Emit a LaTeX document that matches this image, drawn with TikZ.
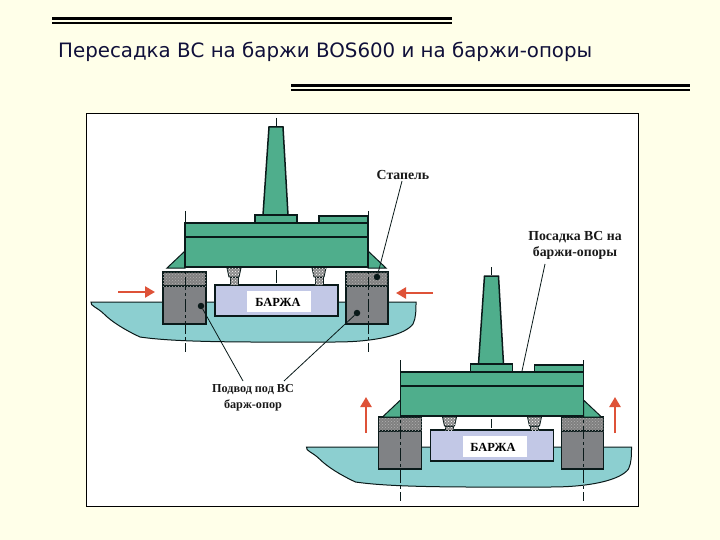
\documentclass[tikz,border=0pt]{standalone}
\usepackage{fontspec}
\setmainfont{Liberation Serif}
\newfontfamily\titlefont{DejaVu Sans}
\usetikzlibrary{patterns,arrows.meta}
\definecolor{pagebg}{HTML}{FFFFE9}
\definecolor{titleink}{HTML}{10103A}
\definecolor{shipgreen}{HTML}{4FAE8C}
\definecolor{hullblue}{HTML}{8CCFD0}
\definecolor{pontoon}{HTML}{808285}
\definecolor{bargeblue}{HTML}{C2C8E6}
\definecolor{redarrow}{HTML}{DE5238}
\definecolor{ink}{HTML}{0A1A1A}
\tikzset{
  x=1pt,y=-1pt,
  hullstyle/.style={fill=hullblue,draw=ink,line width=1pt},
  shipstyle/.style={fill=shipgreen,draw=ink,line width=1.5pt},
  pontoonstyle/.style={fill=pontoon,draw=ink,line width=1.2pt},
  padstyle/.style={draw=ink,line width=1.2pt,fill=black!50,postaction={pattern=crosshatch dots,pattern color=white!70!black}},
  jackpad/.style={draw=ink,line width=0.9pt,fill=black!45,postaction={pattern=crosshatch dots,pattern color=white}},
  bargestyle/.style={fill=bargeblue,draw=ink,line width=1.7pt},
  axisstyle/.style={draw=ink,line width=0.9pt,dash pattern=on 13pt off 3pt on 3pt off 3pt},
  bluelabel/.style={fill=white,inner sep=0pt,font=\bfseries\fontsize{12.4}{12.4}\selectfont,text=black},
  calltext/.style={font=\bfseries\fontsize{13.8}{16}\selectfont,align=center,text=black!90,inner sep=1pt},
  leader/.style={draw=ink,line width=0.8pt},
  dotstyle/.style={circle,fill=ink,minimum size=6.5pt,inner sep=0pt},
  redflow/.style={draw=redarrow,line width=2.4pt,-{Triangle[length=10pt,width=11pt]}},
  rulethick/.style={draw=black,line width=3pt},
  rulethin/.style={draw=black,line width=1.8pt},
}
% #1,#2: shift of the rig; #3: how much lower the ship sits on it
\newcommand{\Rig}[3]{%
\begin{scope}[shift={(#1,#2)}]
  \path[hullstyle] (91,302) .. controls (90,306) and (97,307) .. (104,314)
     .. controls (112,322) and (125,330) .. (140,337)
     .. controls (180,343) and (260,342) .. (335,342)
     .. controls (375,342) and (405,335) .. (413,324)
     .. controls (416,318) and (416,310) .. (416,302) -- cycle;
  \path[pontoonstyle] (163,286) rectangle (206,324);
  \path[pontoonstyle] (346,286) rectangle (388,324);
  \path[padstyle] (163,272) rectangle (206,286);
  \path[padstyle] (346,272) rectangle (388,286);
  \path[bargestyle] (215,285) rectangle (338,316);
  \path[fill=white] (247,291) rectangle (311,312);
  \foreach \jx in {234,319}{
    \path[jackpad] (\jx-7,268+#3) -- (\jx+7,268+#3) -- (\jx+5,277+#3) -- (\jx-5,277+#3) -- cycle;
    \path[jackpad] (\jx-4,277+#3) rectangle (\jx+4,285);
  }
  \path[draw=ink,line width=0.9pt] (276,270+#3) -- (276,283);
  \begin{scope}[yshift=-#3pt]
    \path[shipstyle,line width=1pt] (185,251) -- (167,268) -- (185,268) -- cycle;
    \path[shipstyle,line width=1pt] (368,251) -- (386,268) -- (368,268) -- cycle;
    \path[shipstyle] (269,127) -- (283,127) -- (288,215) -- (263,215) -- cycle;
    \path[shipstyle] (255,215) rectangle (297,223);
    \path[shipstyle] (319,216) rectangle (368,223);
    \path[shipstyle] (185,223) rectangle (368,267);
    \path[draw=ink,line width=1.5pt] (185,237) -- (368,237);
    \path[axisstyle] (185,211) -- (185,352);
    \path[axisstyle] (368,211) -- (368,352);
    \path[draw=ink,line width=0.9pt] (276,118) -- (276,126);
  \end{scope}
\end{scope}}
\begin{document}
\begin{tikzpicture}
\useasboundingbox (0,0) rectangle (720,540);
\path[fill=pagebg] (0,0) rectangle (720,540);
% title rules
\path[rulethick] (52,18.5) -- (452,18.5);
\path[rulethin] (52,23) -- (452,23);
\path[rulethick] (291,86) -- (690,86);
\path[rulethin] (291,90.3) -- (690,90.3);
\node[anchor=base west,inner sep=0pt,text=titleink] (title) at (58,58)
  {\titlefont\fontsize{19.8}{22}\selectfont Пересадка ВС на баржи BOS600 и на баржи-опоры};
% frame
\path[draw=black,fill=white,line width=0.9pt] (86,113) rectangle (638,506);
\Rig{0}{0}{0}
\Rig{215.5}{145}{4}
\node[bluelabel] (barge1) at (278,302) {БАРЖА};
\node[bluelabel] (barge2) at (493,447) {БАРЖА};
% arrows
\coordinate (a1s) at (118,292); \coordinate (a1e) at (155,292);
\coordinate (a2s) at (433,293); \coordinate (a2e) at (396,293);
\coordinate (a3s) at (366,433); \coordinate (a3e) at (366,397);
\coordinate (a4s) at (615,433); \coordinate (a4e) at (615,397);
\draw[redflow] (a1s) -- (a1e);
\draw[redflow] (a2s) -- (a2e);
\draw[redflow] (a3s) -- (a3e);
\draw[redflow] (a4s) -- (a4e);
% callouts
\node[dotstyle] (d1) at (201,306) {};
\node[dotstyle] (d2) at (357,313) {};
\node[dotstyle] (d3) at (377,277) {};
\node[calltext] (stapel) at (403,175) {Стапель};
\node[calltext] (posadka) at (575,245) {Посадка ВС на\\баржи-опоры};
\node[calltext,font=\bfseries\fontsize{12.2}{16}\selectfont] (podvod) at (253,398) {Подвод под ВС\\барж-опор};
\coordinate (p1) at (243,381);
\coordinate (p2) at (284,381);
\coordinate (s1) at (402,181);
\coordinate (q1) at (545,264);
\coordinate (q2) at (522,371);
\draw[leader] (d1) -- (p1);
\draw[leader] (d2) -- (p2);
\draw[leader] (d3) -- (s1);
\draw[leader] (q1) -- (q2);
\end{tikzpicture}
\end{document}
